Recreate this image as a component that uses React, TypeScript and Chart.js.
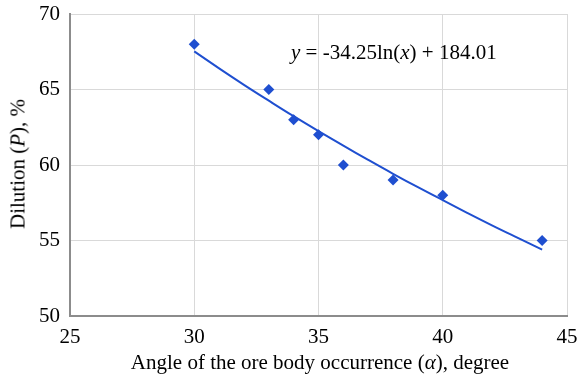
import React, { useEffect, useRef } from "react";
import { Chart, registerables } from "chart.js";

Chart.register(...registerables);

const angles = [30, 33, 34, 35, 36, 38, 40, 44];
const dilution = [68, 65, 63, 62, 60, 59, 58, 55];
const trendX = [30, 31, 32, 33, 34, 35, 36, 37, 38, 39, 40, 41, 42, 43, 44];
const trendY = [67.52, 66.4, 65.31, 64.26, 63.23, 62.24, 61.28, 60.34, 59.42, 58.53, 57.67, 56.82, 55.99, 55.19, 54.4];
const xTicks = [25, 30, 35, 40, 45];
const yTicks = [50, 55, 60, 65, 70];

const FONT = "'Liberation Serif', 'Times New Roman', serif";
const BLUE = "#1f4fd0";
const FS = 21;

Chart.defaults.font.family = FONT;

export default function App() {
  const ref = useRef<HTMLCanvasElement | null>(null);
  useEffect(() => {
    if (!ref.current) return;
    const chart = new Chart(ref.current, {
      type: "scatter",
      data: {
        datasets: [
          {
            label: "Dilution",
            data: angles.map((x, i) => ({ x, y: dilution[i] })),
            pointStyle: "rectRot",
            pointRadius: 5.5,
            backgroundColor: BLUE,
            borderColor: BLUE,
            borderWidth: 0,
            showLine: false,
            order: 1,
          },
          {
            label: "Trend",
            data: trendX.map((x, i) => ({ x, y: trendY[i] })),
            showLine: true,
            pointRadius: 0,
            borderColor: BLUE,
            borderWidth: 2,
            tension: 0.4,
            order: 2,
          },
        ],
      },
      options: {
        responsive: false,
        animation: false,
        layout: { padding: { top: 14, right: 10, left: 0, bottom: 0 } },
        plugins: { legend: { display: false }, tooltip: { enabled: false } },
        scales: {
          x: {
            type: "linear",
            min: 25,
            max: 45,
            afterBuildTicks: (s: any) => {
              s.ticks = xTicks.map((v) => ({ value: v }));
            },
            afterFit: (s: any) => {
              s.height = 62;
              s.paddingLeft = 0;
              s.paddingRight = 0;
            },
            grid: { color: "#d9d9d9", lineWidth: 1, drawTicks: false },
            border: { color: "#8c8c8c", width: 2 },
            ticks: { color: "#000", font: { family: FONT, size: FS, lineHeight: 1 }, padding: 11 },
          },
          y: {
            type: "linear",
            min: 50,
            max: 70,
            afterBuildTicks: (s: any) => {
              s.ticks = yTicks.map((v) => ({ value: v }));
            },
            afterFit: (s: any) => {
              s.width = 70;
              s.paddingTop = 0;
              s.paddingBottom = 0;
            },
            grid: { color: "#d9d9d9", lineWidth: 1, drawTicks: false },
            border: { color: "#8c8c8c", width: 2 },
            ticks: { color: "#000", font: { family: FONT, size: FS }, padding: 10 },
          },
        },
      },
    });
    return () => chart.destroy();
  }, []);

  const textStyle: React.CSSProperties = {
    position: "absolute",
    fontFamily: FONT,
    fontSize: FS,
    color: "#000",
    whiteSpace: "nowrap",
    lineHeight: 1,
  };

  return (
    <div style={{ position: "absolute", left: 0, top: 0, width: 577, height: 378, background: "#fff" }}>
      <canvas ref={ref} width={577} height={378} style={{ position: "absolute", left: 0, top: 0 }} />
      <div style={{ ...textStyle, left: 291, top: 42 }}>
        <i>y</i> = -34.25ln(<i>x</i>) + 184.01
      </div>
      <div style={{ ...textStyle, left: 320, top: 362, transform: "translate(-50%, -50%)" }}>
        Angle of the ore body occurrence (<i>α</i>), degree
      </div>
      <div style={{ ...textStyle, left: 18, top: 164, transform: "translate(-50%, -50%) rotate(-90deg)" }}>
        Dilution (<i>P</i>), %
      </div>
    </div>
  );
}
